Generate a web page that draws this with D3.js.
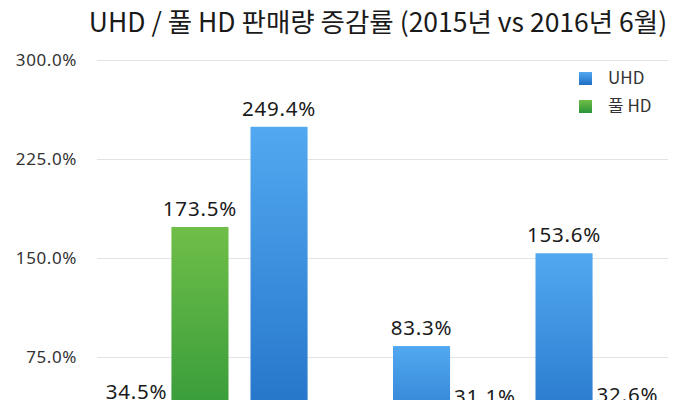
<!DOCTYPE html>
<html>
<head>
<meta charset="utf-8">
<script src="https://cdn.jsdelivr.net/npm/d3@7"></script>
<style>
  html, body { margin: 0; padding: 0; background: #fff; overflow: hidden; }
  svg { display: block; }
</style>
</head>
<body>
<svg id="chart" width="681" height="400"></svg>
<script>
const title = "UHD / 풀 HD 판매량 증감률 (2015년 vs 2016년 6월)";
const categories = ["구간 1", "구간 2", "구간 3", "구간 4"];
const seriesNames = ["UHD", "풀 HD"];
const uhdValues = [34.5, 249.4, 83.3, 153.6];
const fullHdValues = [173.5, 21.0, 31.1, 32.6];
const yTicks = [0, 75, 150, 225, 300];

const svg = d3.select("#chart");
const W = 681, H = 400;
const margin = { left: 97, right: 14, top: 60 };
const zeroY = 456;

const defs = svg.append("defs");
const gradSpecs = [
  { id: "gBlue", top: "#52a9f0", bottom: "#1e6dc4" },
  { id: "gGreen", top: "#6fbe48", bottom: "#2a9437" }
];
gradSpecs.forEach(g => {
  const lg = defs.append("linearGradient").attr("id", g.id)
    .attr("x1", 0).attr("y1", 0).attr("x2", 0).attr("y2", 1);
  lg.append("stop").attr("offset", "0%").attr("stop-color", g.top);
  lg.append("stop").attr("offset", "100%").attr("stop-color", g.bottom);
});
const fills = ["url(#gBlue)", "url(#gGreen)"];

const y = d3.scaleLinear().domain([0, 300]).range([zeroY, margin.top]);
const x0 = d3.scaleBand().domain(categories).range([margin.left, W - margin.right]).paddingInner(0).paddingOuter(0);
const x1 = d3.scaleBand().domain(seriesNames).range([11, x0.bandwidth() - 11]).paddingInner(0.1);

// gridlines
svg.append("g").selectAll("line").data(yTicks.filter(t => t > 0)).join("line")
  .attr("x1", margin.left).attr("x2", W - margin.right + 1)
  .attr("y1", d => Math.round(y(d)) + 0.5).attr("y2", d => Math.round(y(d)) + 0.5)
  .attr("stroke", "#e3e3e3").attr("stroke-width", 1);

// y-axis labels
const yAxis = d3.axisLeft(y).tickValues(yTicks).tickSize(0).tickPadding(0)
  .tickFormat(d => d3.format(".1f")(d) + "%");
const yg = svg.append("g").attr("transform", `translate(${77},0)`).call(yAxis);
yg.select(".domain").remove();
yg.selectAll("text")
  .attr("font-family", "'Noto Sans', sans-serif")
  .attr("font-size", 17).attr("fill", "#333")
  .attr("letter-spacing", "0.6px")
  .attr("dy", "0.35em");

// title
svg.append("text").attr("x", 378).attr("y", 32)
  .attr("text-anchor", "middle")
  .attr("font-family", "'Noto Sans CJK KR', sans-serif")
  .attr("font-weight", 400).attr("font-size", 26.5).attr("fill", "#1a1a1a")
  .text(title);

// bars
const data = categories.map((c, i) => ({ cat: c, vals: [
  { s: seriesNames[0], v: uhdValues[i], k: 0 },
  { s: seriesNames[1], v: fullHdValues[i], k: 1 }
]}));

const groups = svg.append("g").selectAll("g").data(data).join("g")
  .attr("transform", d => `translate(${x0(d.cat)},0)`);

groups.selectAll("rect").data(d => d.vals).join("rect")
  .attr("x", d => x1(d.s)).attr("width", x1.bandwidth())
  .attr("y", d => y(Math.max(0, d.v)))
  .attr("height", d => Math.abs(y(d.v) - y(0)))
  .attr("fill", d => fills[d.k]);

groups.selectAll("text").data(d => d.vals).join("text")
  .attr("x", d => x1(d.s) + x1.bandwidth() / 2)
  .attr("y", d => y(d.v) - 11)
  .attr("text-anchor", "middle")
  .attr("font-family", "'Noto Sans', sans-serif")
  .attr("font-size", 20.5).attr("fill", "#1a1a1a")
  .attr("letter-spacing", "0.8px")
  .text(d => d3.format(".1f")(d.v) + "%");

// category axis (below visible area)
const xAxis = d3.axisBottom(x0).tickSize(0);
svg.append("g").attr("transform", `translate(0,${zeroY + 8})`).call(xAxis)
  .call(g => g.select(".domain").remove());

// legend
const legend = svg.append("g").attr("transform", "translate(579,72)");
seriesNames.forEach((s, i) => {
  const row = legend.append("g").attr("transform", `translate(0,${i * 28})`);
  row.append("rect").attr("width", 13).attr("height", 13).attr("fill", fills[i]);
  row.append("text").attr("x", 29).attr("y", 6.5).attr("dy", "0.35em")
    .attr("font-family", "'Noto Sans CJK KR', sans-serif")
    .attr("font-size", 17).attr("fill", "#333").text(s);
});
</script>
</body>
</html>
